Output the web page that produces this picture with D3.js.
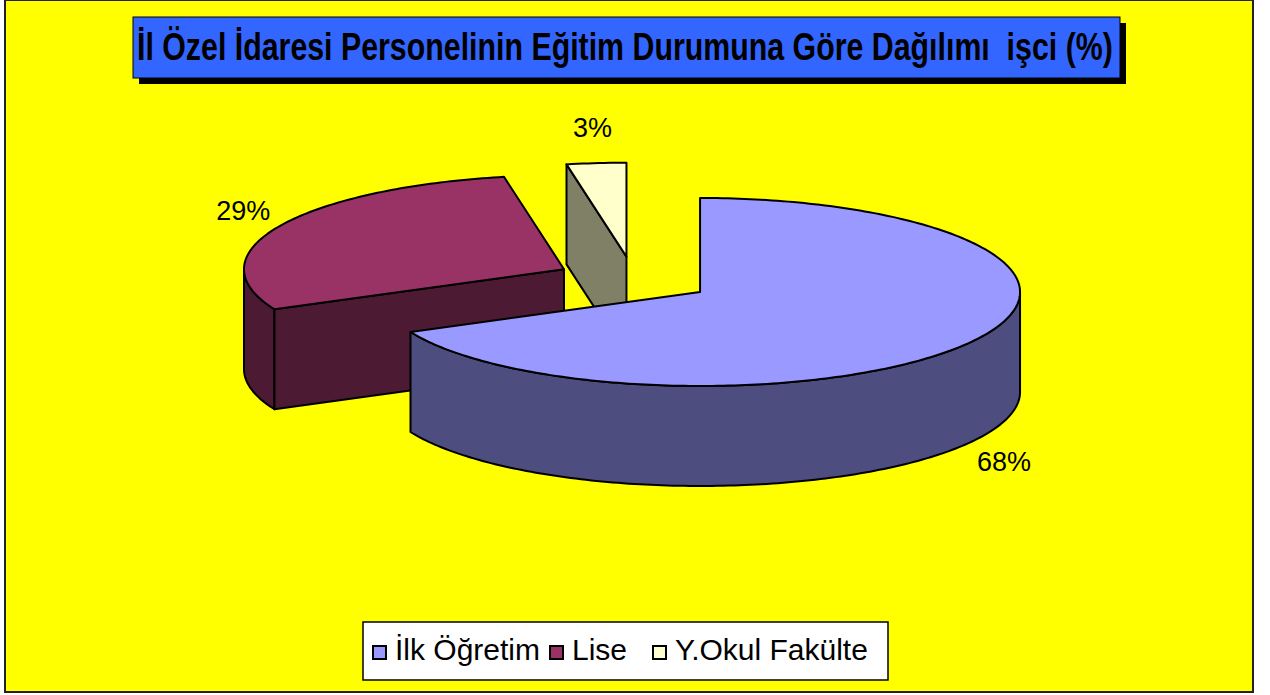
<!DOCTYPE html>
<html>
<head>
<meta charset="utf-8">
<script src="https://cdn.jsdelivr.net/npm/d3@7"></script>
<style>
  html, body { margin: 0; padding: 0; background: #ffffff; }
  svg { display: block; }
  text { font-family: "Liberation Sans", Arial, sans-serif; white-space: pre; }
</style>
</head>
<body>
<svg id="chart" width="1270" height="695"></svg>
<script>
// ---- data ----
const categories = ["İlk Öğretim", "Lise", "Y.Okul Fakülte"];
const values = [68, 29, 3];
const valueLabels = ["68%", "29%", "3%"];
const topColors = ["#9999ff", "#993366", "#ffffcc"];
const sideColors = ["#4d4d80", "#4d1a33", "#808066"];
const titleText = "İl Özel İdaresi Personelinin Eğitim Durumuna Göre Dağılımı  işci (%)";

// ---- layout ----
const frame = { x: 5, y: 0, w: 1248, h: 692 };
const pieCx = 633.85, pieCy = 279.65, rx = 320, ry = 94, depth = 100, explode = 0.245;
const legendBox = { x: 363, y: 622, w: 525, h: 58 };
const legendX = [373, 550, 653];

const svg = d3.select("#chart");

// frame / plot background
svg.append("rect")
  .attr("x", frame.x).attr("y", frame.y).attr("width", frame.w).attr("height", frame.h)
  .attr("fill", "#ffff00").attr("stroke", "#222").attr("stroke-width", 2);

// ---- pie ----
const pie = d3.pie().sort(null).value(d => d);
const arcs = pie(values).map((a, i) => {
  const mid = (a.startAngle + a.endAngle) / 2;
  return {
    ...a, i, mid,
    cx: pieCx + explode * rx * Math.sin(mid),
    cy: pieCy - explode * ry * Math.cos(mid)
  };
});

function pt(s, ang, dz) {
  return [s.cx + rx * Math.sin(ang), s.cy - ry * Math.cos(ang) + (dz || 0)];
}
function arcPts(s, a0, a1, dz) {
  const n = Math.max(2, Math.ceil(Math.abs(a1 - a0) / (Math.PI / 180)));
  const out = [];
  for (let k = 0; k <= n; k++) out.push(pt(s, a0 + (a1 - a0) * k / n, dz));
  return out;
}
const line = d3.line();

const g = svg.append("g");
const order = arcs.slice().sort((a, b) => a.cy - b.cy);
order.forEach(s => {
  const sg = g.append("g");
  // curved outer side (front half only)
  const v0 = Math.max(s.startAngle, Math.PI / 2), v1 = Math.min(s.endAngle, 3 * Math.PI / 2);
  if (v1 > v0) {
    const pts = arcPts(s, v0, v1, 0).concat(arcPts(s, v1, v0, depth));
    sg.append("path").attr("d", line(pts) + "Z")
      .attr("fill", sideColors[s.i]).attr("stroke", "#000").attr("stroke-width", 2).attr("stroke-linejoin", "round");
  }
  // cut faces
  [[s.startAngle, Math.sin(s.startAngle) < -1e-6], [s.endAngle, Math.sin(s.endAngle) > 1e-6]].forEach(([ang, vis]) => {
    if (!vis) return;
    const p = pt(s, ang, 0), q = pt(s, ang, depth);
    const pts = [[s.cx, s.cy], p, q, [s.cx, s.cy + depth]];
    sg.append("path").attr("d", line(pts) + "Z")
      .attr("fill", sideColors[s.i]).attr("stroke", "#000").attr("stroke-width", 2).attr("stroke-linejoin", "round");
  });
  // top face
  const topPts = [[s.cx, s.cy]].concat(arcPts(s, s.startAngle, s.endAngle, 0));
  sg.append("path").attr("d", line(topPts) + "Z")
    .attr("fill", topColors[s.i]).attr("stroke", "#000").attr("stroke-width", 2).attr("stroke-linejoin", "round");
});

// value labels
arcs.forEach(s => {
  const lx = s.cx + (rx + 40) * Math.sin(s.mid);
  const ly = s.cy - (ry + 36) * Math.cos(s.mid) + (Math.cos(s.mid) < 0 ? depth : 0);
  svg.append("text").attr("x", lx).attr("y", ly).attr("dy", "0.36em")
    .attr("text-anchor", "middle").attr("font-size", 27).attr("fill", "#000")
    .text(valueLabels[s.i]);
});

// ---- title ----
svg.append("rect").attr("x", 139).attr("y", 23).attr("width", 987).attr("height", 61).attr("fill", "#000");
svg.append("rect").attr("x", 133).attr("y", 17).attr("width", 987).attr("height", 61)
  .attr("fill", "#3366ff").attr("stroke", "#000").attr("stroke-width", 1);
const titleG = svg.append("g");
const tt = titleG.append("text").attr("x", 0).attr("y", 0)
  .attr("font-size", 38).attr("font-weight", "bold").attr("fill", "#000")
  .text(titleText);
const natW = tt.node().getComputedTextLength();
titleG.attr("transform", `translate(137,60) scale(${976 / natW},1)`);

// ---- legend ----
svg.append("rect").attr("x", legendBox.x).attr("y", legendBox.y).attr("width", legendBox.w).attr("height", legendBox.h)
  .attr("fill", "#fff").attr("stroke", "#000").attr("stroke-width", 1.5);
categories.forEach((c, i) => {
  svg.append("rect").attr("x", legendX[i]).attr("y", 646).attr("width", 13).attr("height", 13)
    .attr("fill", topColors[i]).attr("stroke", "#000").attr("stroke-width", 2);
  svg.append("text").attr("x", legendX[i] + 22).attr("y", 660)
    .attr("font-size", 30).attr("fill", "#000").text(c);
});
</script>
</body>
</html>
